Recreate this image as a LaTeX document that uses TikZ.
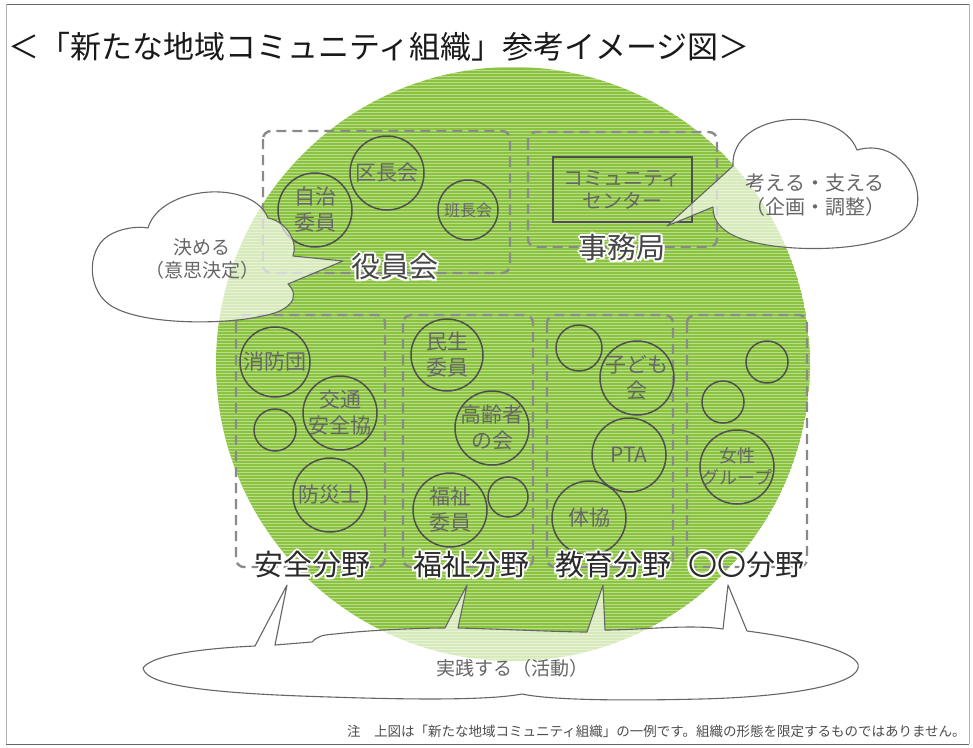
\documentclass[tikz,border=0pt]{standalone}
\usepackage{fontspec}
\setmainfont{Noto Sans CJK JP}
\definecolor{leaf}{HTML}{8AC43F}
\definecolor{boxgray}{HTML}{8A8A8A}
\definecolor{circgray}{HTML}{4F4F4F}
\definecolor{txtgray}{HTML}{666666}
\definecolor{cloudline}{HTML}{666666}
\definecolor{lbldark}{HTML}{2A2A2A}
\newcommand\hlcopy[3]{\rlap{\kern#1\raise#2\hbox{\color{white}#3}}}
\newcommand\halo[1]{\hlcopy{2pt}{0pt}{#1}\hlcopy{-2pt}{0pt}{#1}\hlcopy{0pt}{2pt}{#1}\hlcopy{0pt}{-2pt}{#1}\hlcopy{1.5pt}{1.5pt}{#1}\hlcopy{-1.5pt}{1.5pt}{#1}\hlcopy{1.5pt}{-1.5pt}{#1}\hlcopy{-1.5pt}{-1.5pt}{#1}#1}
\tikzset{
  grpbox/.style={draw=boxgray, line width=2.4pt, dash pattern=on 10pt off 6pt, rounded corners=8pt},
  org/.style={draw=circgray, line width=1.5pt, circle, inner sep=0pt, minimum size=#1},
  orgtxt/.style={text=txtgray, font=\fontsize{21}{26}\selectfont, align=center, inner sep=0pt},
  smalltxt/.style={text=txtgray, font=\fontsize{17}{21}\selectfont, align=center, inner sep=0pt},
  cloudsty/.style={draw=cloudline, line width=1.1pt, fill=white, fill opacity=0.65, line join=round},
  cloudtxt/.style={text=txtgray, font=\fontsize{19}{23}\selectfont, align=center, inner sep=0pt},
  grplbl/.style={text=lbldark, font=\fontsize{29}{29}\selectfont, inner sep=0pt},
}
\begin{document}
\begin{tikzpicture}[x=1pt,y=-1pt]
\useasboundingbox (0,0) rectangle (973,747);
\fill[white] (0,0) rectangle (973,747);
% frame
\draw[gray!80!black, line width=1pt] (6,4) -- (969,4);
\draw[gray!80!black, line width=1pt] (6,744) -- (969,744);
\draw[gray!60, line width=1pt] (6,4) -- (6,744);
\draw[gray!60, line width=1pt] (969,4) -- (969,744);
% title
\node[anchor=west, inner sep=0pt, text=black!90, font=\fontsize{31}{31}\selectfont] (title) at (8,47) {＜「新たな地域コミュニティ組織」参考イメージ図＞};
% green disc with stripes
\begin{scope}
\clip (513,364) circle (297pt);
\fill[leaf] (513,364) circle (297pt);
\foreach \yy in {67,70,...,662} \draw[white, opacity=0.42, line width=1pt] (210,\yy) -- (816,\yy);
\end{scope}
% group boxes
\draw[grpbox] (263,131) rectangle (510,273);
\draw[grpbox] (528,132) rectangle (717,247);
\draw[grpbox] (236,315) rectangle (385,567);
\draw[grpbox] (403,315) rectangle (533,567);
\draw[grpbox] (547,315) rectangle (673,567);
\draw[grpbox] (687,315) rectangle (807,567);
% 役員会 circles
\node[org=74pt] (jichi) at (315,210) {};
\node[orgtxt] at (jichi) {自治\\委員};
\node[org=74pt] (kucho) at (387,173) {};
\node[orgtxt] at (kucho) {区長会};
\node[org=60pt] (hancho) at (468,210) {};
\node[smalltxt, font=\fontsize{16}{20}\selectfont] at (hancho) {班長会};
% community center
\node[draw=circgray, line width=1.5pt, minimum width=139pt, minimum height=65pt, inner sep=0pt] (center) at (622.5,189.5) {};
\node[orgtxt, font=\fontsize{20}{23}\selectfont] at (center) {コミュニティ\\センター};
% safety
\node[org=70pt] (shobo) at (275,362) {};
\node[orgtxt] at (shobo) {消防団};
\node[org=74pt] (kotsu) at (340,413) {};
\node[orgtxt] at (kotsu) {交通\\安全協};
\node[org=42pt] (safe3) at (275,430) {};
\node[org=74pt] (bosai) at (330,495) {};
\node[orgtxt] at (bosai) {防災士};
% welfare
\node[org=72pt] (minsei) at (447,355) {};
\node[orgtxt] at (minsei) {民生\\委員};
\node[org=74pt] (korei) at (492,428) {};
\node[orgtxt] at (korei) {高齢者\\の会};
\node[org=74pt] (fukushi) at (450,510) {};
\node[orgtxt] at (fukushi) {福祉\\委員};
\node[org=40pt] (welf4) at (508,497) {};
% education
\node[org=46pt] (edu1) at (579,348) {};
\node[org=74pt] (kodomo) at (637,378) {};
\node[orgtxt] at (kodomo) {子ども\\会};
\node[org=74pt] (pta) at (629,455) {};
\node[orgtxt] at (pta) {PTA};
\node[org=74pt] (taikyo) at (589,518) {};
\node[orgtxt] at (taikyo) {体協};
% other
\node[org=42pt] (oth1) at (767,362) {};
\node[org=42pt] (oth2) at (723,402) {};
\node[org=74pt] (josei) at (737,467) {};
\node[smalltxt, font=\fontsize{18}{22}\selectfont] at (josei) {女性\\グループ};
% left cloud
\path[cloudsty] (148,228) .. controls (160,186) and (252,178) .. (268,218)
  .. controls (288,222) and (298,243) .. (293,256)
  -- (343,261) -- (288,284)
  .. controls (302,298) and (288,312) .. (262,316)
  .. controls (230,324) and (150,326) .. (115,308)
  .. controls (86,294) and (86,250) .. (108,236)
  .. controls (120,228) and (138,226) .. cycle;
\node[cloudtxt] (kimeru) at (202,259) {決める\\（意思決定）};
% right cloud
\path[cloudsty] (733,166) .. controls (730,110) and (840,104) .. (857,150)
  .. controls (905,136) and (934,198) .. (908,225)
  .. controls (885,252) and (790,254) .. (745,240)
  .. controls (725,234) and (712,222) .. (713,207)
  -- (667,226) -- cycle;
\node[cloudtxt, font=\fontsize{20}{24}\selectfont] (kangaeru) at (815,195) {考える・支える\\（企画・調整）};
% bottom cloud
\path[cloudsty] (143,668) .. controls (152,654) and (210,648) .. (255,646)
  -- (287,585) -- (275,645)
  -- (312,642) .. controls (318,636) and (322,635) .. (335,634)
  .. controls (370,630) and (420,628) .. (445,628)
  -- (467,585) -- (458,628)
  .. controls (500,629) and (560,632) .. (587,632)
  -- (603,585) -- (605,630)
  .. controls (640,630) and (690,624) .. (723,629)
  -- (728,585) -- (747,631)
  .. controls (800,638) and (852,650) .. (858,664)
  .. controls (864,684) and (790,697) .. (700,699)
  .. controls (620,701) and (550,700) .. (522,694)
  .. controls (490,700) and (420,700) .. (330,697)
  .. controls (230,694) and (146,688) .. cycle;
\node[cloudtxt] (jissen) at (512,668) {実践する（活動）};
% group labels
\node[grplbl, text=black!72] (yakuin) at (395,267) {\halo{役員会}};
\node[grplbl, text=black!72] (jimu) at (622,248) {\halo{事務局}};
\node[grplbl] (anzen) at (312,565) {\halo{安全分野}};
\node[grplbl] (fukushibun) at (471,565) {\halo{福祉分野}};
\node[grplbl] (kyoiku) at (613,565) {\halo{教育分野}};
\node[grplbl] (maru) at (746,565) {\halo{〇〇分野}};
% footnote
\node[anchor=west, inner sep=0pt, text=black!70, font=\fontsize{13.5}{14}\selectfont] (note) at (347,731) {注　上図は「新たな地域コミュニティ組織」の一例です。組織の形態を限定するものではありません。};
\end{tikzpicture}
\end{document}
